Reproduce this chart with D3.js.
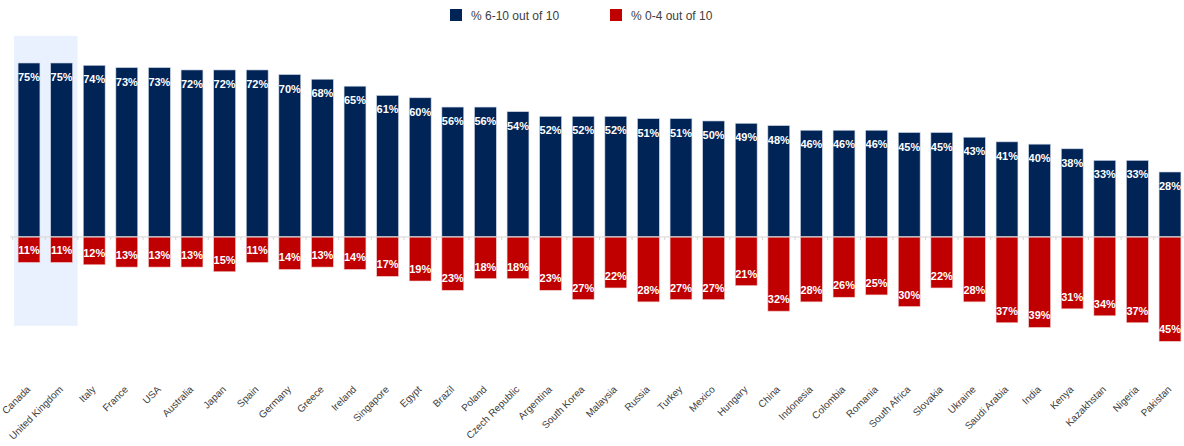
<!DOCTYPE html>
<html>
<head>
<meta charset="utf-8">
<script src="https://cdn.jsdelivr.net/npm/d3@7"></script>
<style>
  html, body { margin: 0; padding: 0; background: #fff; }
  svg { display: block; font-family: "Liberation Sans", Arial, sans-serif; }
</style>
</head>
<body>
<svg id="chart" width="1184" height="446"></svg>
<script>
// Countries, ordered by share rating 6-10
const countries = ["Canada", "United Kingdom", "Italy", "France", "USA", "Australia", "Japan", "Spain",
  "Germany", "Greece", "Ireland", "Singapore", "Egypt", "Brazil", "Poland", "Czech Republic",
  "Argentina", "South Korea", "Malaysia", "Russia", "Turkey", "Mexico", "Hungary", "China",
  "Indonesia", "Colombia", "Romania", "South Africa", "Slovakia", "Ukraine", "Saudi Arabia",
  "India", "Kenya", "Kazakhstan", "Nigeria", "Pakistan"];

// % rating 6-10 out of 10
const positive = [75, 75, 74, 73, 73, 72, 72, 72, 70, 68, 65, 61, 60, 56, 56, 54,
  52, 52, 52, 51, 51, 50, 49, 48, 46, 46, 46, 45, 45, 43, 41, 40, 38, 33, 33, 28];

// % rating 0-4 out of 10
const negative = [11, 11, 12, 13, 13, 13, 15, 11, 14, 13, 14, 17, 19, 23, 18, 18,
  23, 27, 22, 28, 27, 27, 21, 32, 28, 26, 25, 30, 22, 28, 37, 39, 31, 34, 37, 45];

const seriesNames = ["% 6-10 out of 10", "% 0-4 out of 10"];
const highlighted = ["Canada", "United Kingdom"];

const NAVY = "#012456";
const RED = "#c00000";

const svg = d3.select("#chart");

const x = d3.scaleBand()
  .domain(countries)
  .range([12.7, 1186.3])
  .paddingInner(0.33)
  .paddingOuter(0.165);

const y = d3.scaleLinear()
  .domain([-45, 75])
  .range([341.3, 63]);

const bw = x.bandwidth();

// Highlight panel behind the first two countries
svg.append("rect")
  .attr("x", x(highlighted[0]) - 4)
  .attr("y", y(86.7))
  .attr("width", x(highlighted[1]) + bw + 5 - (x(highlighted[0]) - 4))
  .attr("height", y(-38.3) - y(86.7))
  .attr("fill", "#e8f1fd");

const rows = countries.map((c, i) => ({ c, pos: positive[i], neg: negative[i] }));

// Positive (upward) bars
svg.append("g").selectAll("rect")
  .data(rows).join("rect")
  .attr("x", d => x(d.c))
  .attr("y", d => y(d.pos))
  .attr("width", bw)
  .attr("height", d => y(0) - y(d.pos))
  .attr("fill", NAVY)
  .attr("stroke", "#c9d2e3")
  .attr("stroke-width", 0.6);

// Negative (downward) bars
svg.append("g").selectAll("rect")
  .data(rows).join("rect")
  .attr("x", d => x(d.c))
  .attr("y", y(0))
  .attr("width", bw)
  .attr("height", d => y(-d.neg) - y(0))
  .attr("fill", RED)
  .attr("stroke", "#f0c8c8")
  .attr("stroke-width", 0.6);

// Zero baseline with small ticks between categories
const base = svg.append("g");
base.append("line")
  .attr("x1", 10).attr("x2", 1184)
  .attr("y1", y(0)).attr("y2", y(0))
  .attr("stroke", "#d6d6d6").attr("stroke-width", 1);
base.selectAll("line.tick")
  .data(countries).join("line")
  .attr("class", "tick")
  .attr("x1", d => x(d) - x.step() * x.paddingInner() / 2)
  .attr("x2", d => x(d) - x.step() * x.paddingInner() / 2)
  .attr("y1", y(0)).attr("y2", y(0) + 3)
  .attr("stroke", "#d6d6d6");

// Value labels
svg.append("g").selectAll("text")
  .data(rows).join("text")
  .attr("x", d => x(d.c) + bw / 2)
  .attr("y", d => y(d.pos) + 18)
  .attr("text-anchor", "middle")
  .attr("fill", "#fff")
  .attr("font-size", 11)
  .attr("font-weight", "bold")
  .text(d => d.pos + "%");

svg.append("g").selectAll("text")
  .data(rows).join("text")
  .attr("x", d => x(d.c) + bw / 2)
  .attr("y", d => y(-d.neg) - 8)
  .attr("text-anchor", "middle")
  .attr("fill", "#fff")
  .attr("font-size", 11)
  .attr("font-weight", "bold")
  .text(d => d.neg + "%");

// Category labels, rotated
svg.append("g").selectAll("text")
  .data(countries).join("text")
  .attr("transform", d => `translate(${x(d) + bw / 2 + 2},${390}) rotate(-45)`)
  .attr("text-anchor", "end")
  .attr("fill", "#404040")
  .attr("font-size", 10)
  .text(d => d);

// Legend
const legend = svg.append("g");
const legendItems = [
  { name: seriesNames[0], color: NAVY, x: 450 },
  { name: seriesNames[1], color: RED, x: 610 }
];
const li = legend.selectAll("g").data(legendItems).join("g")
  .attr("transform", d => `translate(${d.x},9)`);
li.append("rect").attr("width", 12).attr("height", 12).attr("fill", d => d.color);
li.append("text")
  .attr("x", 21).attr("y", 10.5)
  .attr("font-size", 12)
  .attr("fill", "#404040")
  .text(d => d.name);
</script>
</body>
</html>
